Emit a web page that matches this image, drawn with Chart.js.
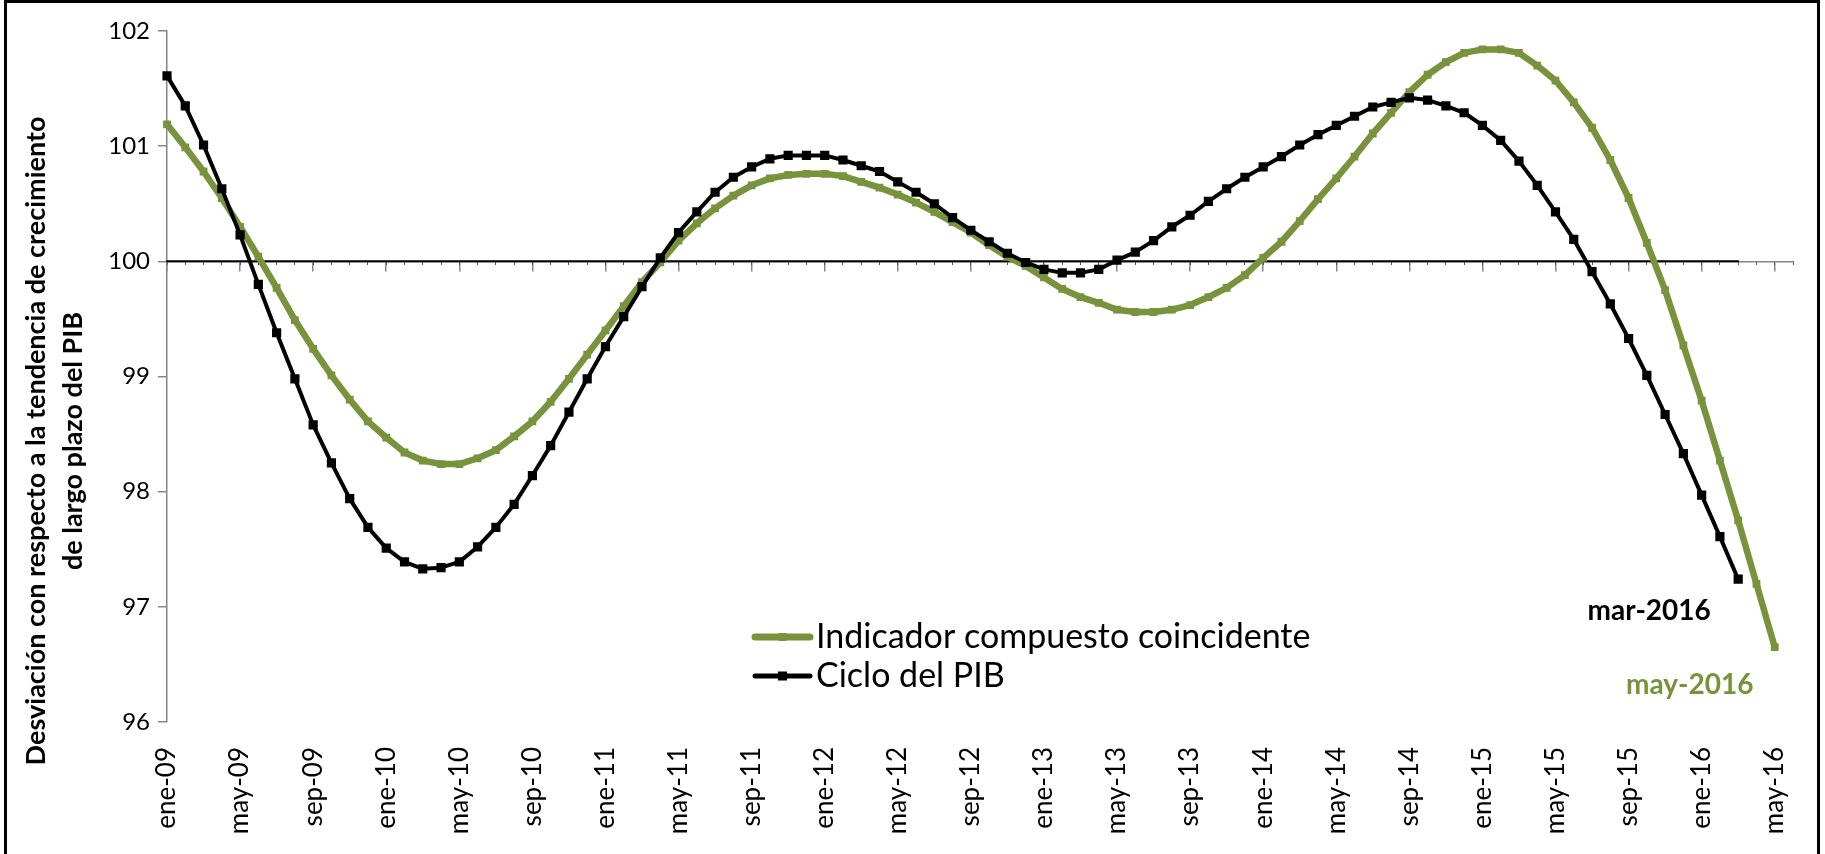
<!DOCTYPE html>
<html lang="es">
<head>
<meta charset="utf-8">
<title>Indicador compuesto coincidente y ciclo del PIB</title>
<script src="https://cdn.jsdelivr.net/npm/chart.js@4.4.1/dist/chart.umd.min.js"></script>
<style>
  html, body { margin: 0; padding: 0; background: #fff; }
  #wrap { position: relative; width: 1825px; height: 854px; }
  #marco { position: absolute; left: 4px; top: 0; width: 1816px; height: 854px; border: 3px solid #000; border-bottom: none; box-sizing: border-box; pointer-events: none; }
</style>
</head>
<body>
<div id="wrap">
  <canvas id="myChart" width="1825" height="854"></canvas>
  <div id="marco"></div>
</div>
<script>
// meses (eje de categorias), ene-09 a jun-16
const meses = [
  'ene-09','feb-09','mar-09','abr-09','may-09','jun-09','jul-09','ago-09','sep-09','oct-09','nov-09','dic-09',
  'ene-10','feb-10','mar-10','abr-10','may-10','jun-10','jul-10','ago-10','sep-10','oct-10','nov-10','dic-10',
  'ene-11','feb-11','mar-11','abr-11','may-11','jun-11','jul-11','ago-11','sep-11','oct-11','nov-11','dic-11',
  'ene-12','feb-12','mar-12','abr-12','may-12','jun-12','jul-12','ago-12','sep-12','oct-12','nov-12','dic-12',
  'ene-13','feb-13','mar-13','abr-13','may-13','jun-13','jul-13','ago-13','sep-13','oct-13','nov-13','dic-13',
  'ene-14','feb-14','mar-14','abr-14','may-14','jun-14','jul-14','ago-14','sep-14','oct-14','nov-14','dic-14',
  'ene-15','feb-15','mar-15','abr-15','may-15','jun-15','jul-15','ago-15','sep-15','oct-15','nov-15','dic-15',
  'ene-16','feb-16','mar-16','abr-16','may-16','jun-16'
];

// Indicador compuesto coincidente (hasta may-2016)
const indicador = [
  101.19, 100.99, 100.78, 100.55, 100.30, 100.04, 99.77, 99.49, 99.24, 99.01, 98.80, 98.61,
  98.47, 98.34, 98.27, 98.24, 98.24, 98.29, 98.36, 98.48, 98.61, 98.78, 98.98, 99.19,
  99.40, 99.61, 99.82, 99.99, 100.18, 100.33, 100.46, 100.57, 100.66, 100.72, 100.75, 100.76,
  100.76, 100.74, 100.69, 100.64, 100.58, 100.51, 100.43, 100.34, 100.25, 100.14, 100.04, 99.96,
  99.86, 99.76, 99.69, 99.64, 99.58, 99.56, 99.56, 99.58, 99.62, 99.69, 99.77, 99.88,
  100.03, 100.17, 100.35, 100.54, 100.72, 100.91, 101.11, 101.29, 101.47, 101.62, 101.73, 101.81,
  101.84, 101.84, 101.81, 101.70, 101.57, 101.38, 101.16, 100.88, 100.55, 100.16, 99.75, 99.27,
  98.79, 98.27, 97.75, 97.20, 96.65
];

// Ciclo del PIB (hasta mar-2016)
const cicloPIB = [
  101.61, 101.35, 101.01, 100.63, 100.23, 99.80, 99.38, 98.98, 98.58, 98.25, 97.94, 97.69,
  97.51, 97.39, 97.33, 97.34, 97.39, 97.52, 97.69, 97.89, 98.14, 98.40, 98.69, 98.98,
  99.26, 99.52, 99.78, 100.03, 100.25, 100.43, 100.60, 100.73, 100.82, 100.89, 100.92, 100.92,
  100.92, 100.88, 100.83, 100.78, 100.69, 100.60, 100.50, 100.38, 100.27, 100.17, 100.07, 99.99,
  99.93, 99.90, 99.90, 99.93, 100.01, 100.08, 100.18, 100.30, 100.40, 100.52, 100.63, 100.73,
  100.82, 100.91, 101.01, 101.10, 101.18, 101.26, 101.34, 101.38, 101.42, 101.40, 101.35, 101.29,
  101.18, 101.05, 100.87, 100.66, 100.43, 100.19, 99.91, 99.63, 99.33, 99.01, 98.67, 98.33,
  97.97, 97.61, 97.24
];

// linea de referencia en 100
const referencia = [{ x: 'ene-09', y: 100 }, { x: 'mar-16', y: 100 }];

const ticksY = [96, 97, 98, 99, 100, 101, 102];

const tituloY = ['Desviación con respecto a la tendencia de crecimiento', 'de largo plazo del PIB'];
const nombreIndicador = 'Indicador compuesto coincidente';
const nombreCiclo = 'Ciclo del PIB';
const etiquetaCiclo = 'mar-2016';
const etiquetaIndicador = 'may-2016';

const verde = '#77933C';
const gris = '#868686';

Chart.defaults.font.family = 'Lato, "Open Sans", sans-serif';
Chart.defaults.color = '#000';

// textos que Chart.js no pone solo: titulo del eje, leyenda interna y rotulos finales
const textosExtra = {
  id: 'textosExtra',
  afterDraw(chart) {
    const ctx = chart.ctx;
    const xs = chart.scales.x;
    const ys = chart.scales.y;

    // titulo eje y
    ctx.save();
    ctx.translate(36, 441);
    ctx.rotate(-Math.PI / 2);
    ctx.textAlign = 'center';
    ctx.textBaseline = 'middle';
    ctx.fillStyle = '#000';
    ctx.font = 'bold 27px Lato';
    ctx.fillText(tituloY[0], 0, 0);
    ctx.fillText(tituloY[1], 0, 37);
    ctx.restore();

    // leyenda
    const items = [
      { text: nombreIndicador, color: verde, lw: 7, r: 4, y: 637 },
      { text: nombreCiclo, color: '#000', lw: 5, r: 4.5, y: 676 }
    ];
    ctx.save();
    items.forEach(it => {
      const x0 = 755, x1 = 810;
      ctx.strokeStyle = it.color;
      ctx.lineWidth = it.lw;
      ctx.lineCap = 'round';
      ctx.beginPath();
      ctx.moveTo(x0, it.y);
      ctx.lineTo(x1, it.y);
      ctx.stroke();
      ctx.fillStyle = it.color;
      const cx = (x0 + x1) / 2;
      ctx.fillRect(cx - it.r, it.y - it.r, it.r * 2, it.r * 2);
      ctx.fillStyle = '#000';
      ctx.font = '34px Lato';
      ctx.textAlign = 'left';
      ctx.textBaseline = 'middle';
      ctx.fillText(it.text, x1 + 6, it.y);
    });
    ctx.restore();

    // rotulos de ultimo dato
    ctx.save();
    ctx.font = 'bold 28px Lato';
    ctx.textAlign = 'center';
    ctx.textBaseline = 'middle';
    const iC = cicloPIB.length - 1;
    const iI = indicador.length - 1;
    ctx.fillStyle = '#000';
    ctx.fillText(etiquetaCiclo, xs.getPixelForValue(iC) - 89, ys.getPixelForValue(cicloPIB[iC]) + 32);
    ctx.fillStyle = verde;
    ctx.fillText(etiquetaIndicador, xs.getPixelForValue(iI) - 85, ys.getPixelForValue(indicador[iI]) + 38);
    ctx.restore();
  }
};

// los ejes x no deben reservar margen lateral propio
function sinMargenX(s, alto) {
  s.height = alto;
  s.paddingLeft = 0;
  s.paddingRight = 0;
}

const data = {
  labels: meses,
  datasets: [{
    label: nombreCiclo,
    data: cicloPIB,
    borderColor: '#000',
    backgroundColor: '#000',
    borderWidth: 4,
    pointStyle: 'rect',
    pointRadius: 6.5,
    pointBorderWidth: 0,
    tension: 0,
    order: 0
  }, {
    label: nombreIndicador,
    data: indicador,
    borderColor: verde,
    backgroundColor: verde,
    borderWidth: 6.5,
    pointStyle: 'rect',
    pointRadius: 5.5,
    pointBorderWidth: 0,
    tension: 0,
    order: 1
  }, {
    label: 'referencia',
    data: referencia,
    borderColor: '#000',
    borderWidth: 2,
    pointRadius: 0,
    order: 2
  }]
};

const config = {
  type: 'line',
  data,
  options: {
    responsive: false,
    animation: false,
    devicePixelRatio: 1,
    layout: { padding: { left: 0, right: 32, top: 31, bottom: 0 } },
    plugins: {
      legend: { display: false },
      tooltip: { enabled: false }
    },
    elements: { line: { borderJoinStyle: 'round', borderCapStyle: 'round' } },
    scales: {
      x: {
        type: 'category',
        position: { y: 100 },
        offset: false,
        border: { display: true, color: gris, width: 1.5 },
        grid: {
          drawOnChartArea: false,
          drawTicks: true,
          tickLength: 9,
          lineWidth: 1.5,
          color: ctx => (ctx.index % 4 === 0 ? gris : 'rgba(0,0,0,0)')
        },
        ticks: { display: false, autoSkip: false },
        afterFit: s => sinMargenX(s, 0)
      },
      xMenor: {
        type: 'category',
        position: { y: 100 },
        offset: false,
        border: { display: false },
        grid: { drawOnChartArea: false, drawTicks: true, tickLength: 4, lineWidth: 1, color: '#555' },
        ticks: { display: false, autoSkip: false },
        afterFit: s => sinMargenX(s, 0)
      },
      xEtiquetas: {
        type: 'category',
        position: 'bottom',
        offset: false,
        border: { display: false },
        grid: { display: false, drawTicks: false },
        ticks: {
          autoSkip: false,
          minRotation: 90,
          maxRotation: 90,
          padding: 25,
          font: { size: 26 },
          color: '#000',
          callback: function (value, index) {
            return index % 4 === 0 ? this.getLabelForValue(value) : '';
          }
        },
        afterFit: s => sinMargenX(s, 132)
      },
      y: {
        min: 96,
        max: 102,
        border: { display: true, color: gris, width: 1.5 },
        grid: { drawOnChartArea: false, drawTicks: true, tickLength: 9, lineWidth: 1.5, color: gris },
        ticks: { font: { size: 24 }, color: '#000', padding: 8 },
        afterBuildTicks: s => { s.ticks = ticksY.map(v => ({ value: v })); },
        afterFit: s => { s.width = 167; }
      }
    }
  },
  plugins: [textosExtra]
};

const myChart = new Chart(document.getElementById('myChart'), config);
</script>
</body>
</html>
